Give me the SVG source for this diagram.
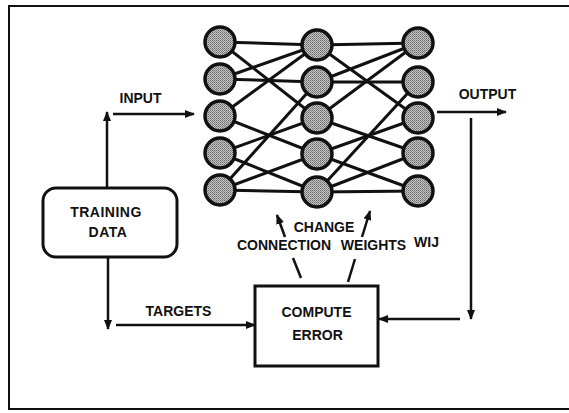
<svg xmlns="http://www.w3.org/2000/svg" width="569" height="413" viewBox="0 0 569 413">
<style>
.t{font-family:"Liberation Sans",Arial,sans-serif;font-weight:bold;font-size:14px;fill:#111;text-anchor:middle}
.w{stroke:#111;stroke-width:3;fill:none;stroke-linecap:round}
.c{stroke:#111;stroke-width:2.5;fill:none}
.a{marker-end:url(#ah)}
.n{fill:url(#dots);stroke:#111;stroke-width:3.5}
.b{fill:#fff;stroke:#111;stroke-width:3}
</style>
<defs>
<marker id="ah" markerUnits="userSpaceOnUse" markerWidth="10" markerHeight="8" refX="9" refY="4" orient="auto">
<path d="M0,0 L10,4 L0,8 z" fill="#111"/>
</marker>
<pattern id="dots" patternUnits="userSpaceOnUse" width="2" height="2">
<rect width="2" height="2" fill="#c4c4c4"/>
<rect width="1" height="1" fill="#6a6a6a"/>
<rect x="1" y="1" width="1" height="1" fill="#8a8a8a"/>
</pattern>
</defs>
<rect width="569" height="413" fill="#fff"/>
<path d="M569,6 H9 V409 H569" fill="none" stroke="#111" stroke-width="2"/>

<g id="weights">
<g class="w">
<line x1="220" y1="42" x2="317" y2="45"/>
<line x1="220" y1="42" x2="317" y2="118"/>
<line x1="220" y1="79" x2="317" y2="45"/>
<line x1="220" y1="79" x2="317" y2="82"/>
<line x1="220" y1="116" x2="317" y2="45"/>
<line x1="220" y1="116" x2="317" y2="154"/>
<line x1="220" y1="153" x2="317" y2="118"/>
<line x1="220" y1="153" x2="317" y2="192"/>
<line x1="220" y1="190" x2="317" y2="82"/>
<line x1="220" y1="190" x2="317" y2="154"/>
<line x1="220" y1="190" x2="317" y2="192"/>
<line x1="317" y1="45" x2="418" y2="43"/>
<line x1="317" y1="45" x2="418" y2="118"/>
<line x1="317" y1="82" x2="418" y2="43"/>
<line x1="317" y1="82" x2="418" y2="82"/>
<line x1="317" y1="118" x2="418" y2="43"/>
<line x1="317" y1="118" x2="418" y2="153"/>
<line x1="317" y1="154" x2="418" y2="118"/>
<line x1="317" y1="154" x2="418" y2="191"/>
<line x1="317" y1="192" x2="418" y2="82"/>
<line x1="317" y1="192" x2="418" y2="153"/>
<line x1="317" y1="192" x2="418" y2="191"/>
</g>
</g>

<g id="input-layer">
<circle class="n" cx="220" cy="42" r="15"/>
<circle class="n" cx="220" cy="79" r="15"/>
<circle class="n" cx="220" cy="116" r="15"/>
<circle class="n" cx="220" cy="153" r="15"/>
<circle class="n" cx="220" cy="190" r="15"/>
</g>
<g id="hidden-layer">
<circle class="n" cx="317" cy="45" r="15"/>
<circle class="n" cx="317" cy="82" r="15"/>
<circle class="n" cx="317" cy="118" r="15"/>
<circle class="n" cx="317" cy="154" r="15"/>
<circle class="n" cx="317" cy="192" r="15"/>
</g>
<g id="output-layer">
<circle class="n" cx="418" cy="43" r="15"/>
<circle class="n" cx="418" cy="82" r="15"/>
<circle class="n" cx="418" cy="118" r="15"/>
<circle class="n" cx="418" cy="153" r="15"/>
<circle class="n" cx="418" cy="191" r="15"/>
</g>

<g id="training-data">
<rect class="b" x="43" y="188" width="134" height="69" rx="13"/>
<text class="t" x="106" y="217" letter-spacing="0.5">TRAINING</text>
<text class="t" x="108" y="237" letter-spacing="0.5">DATA</text>
</g>

<g id="compute-error">
<rect class="b" x="255" y="286" width="123" height="80"/>
<text class="t" x="316.5" y="317">COMPUTE</text>
<text class="t" x="317.5" y="340">ERROR</text>
</g>

<g id="connectors">
<line class="c a" x1="113" y1="114" x2="194" y2="114"/>
<line class="c a" x1="107" y1="188" x2="107" y2="112"/>
<line class="c a" x1="108" y1="257" x2="108" y2="329"/>
<line class="c a" x1="116" y1="325" x2="255" y2="325"/>
<line class="c a" x1="437" y1="112" x2="506" y2="112"/>
<line class="c a" x1="471" y1="118" x2="471" y2="319"/>
<line class="c a" x1="460" y1="319" x2="379" y2="319"/>
<line class="c" x1="301" y1="278" x2="293" y2="258"/>
<line class="c a" x1="285" y1="237" x2="277" y2="215"/>
<line class="c" x1="348" y1="282" x2="355" y2="259"/>
<line class="c a" x1="362" y1="237" x2="370" y2="211"/>
</g>

<g id="labels">
<text class="t" x="140.5" y="103">INPUT</text>
<text class="t" x="487.5" y="99">OUTPUT</text>
<text class="t" x="178.5" y="316">TARGETS</text>
<text class="t" x="324" y="232">CHANGE</text>
<text class="t" y="250"><tspan x="284">CONNECTION</tspan><tspan x="373.5">WEIGHTS</tspan></text>
<text class="t" x="426.5" y="247" font-size="13">WIJ</text>
</g>
</svg>
